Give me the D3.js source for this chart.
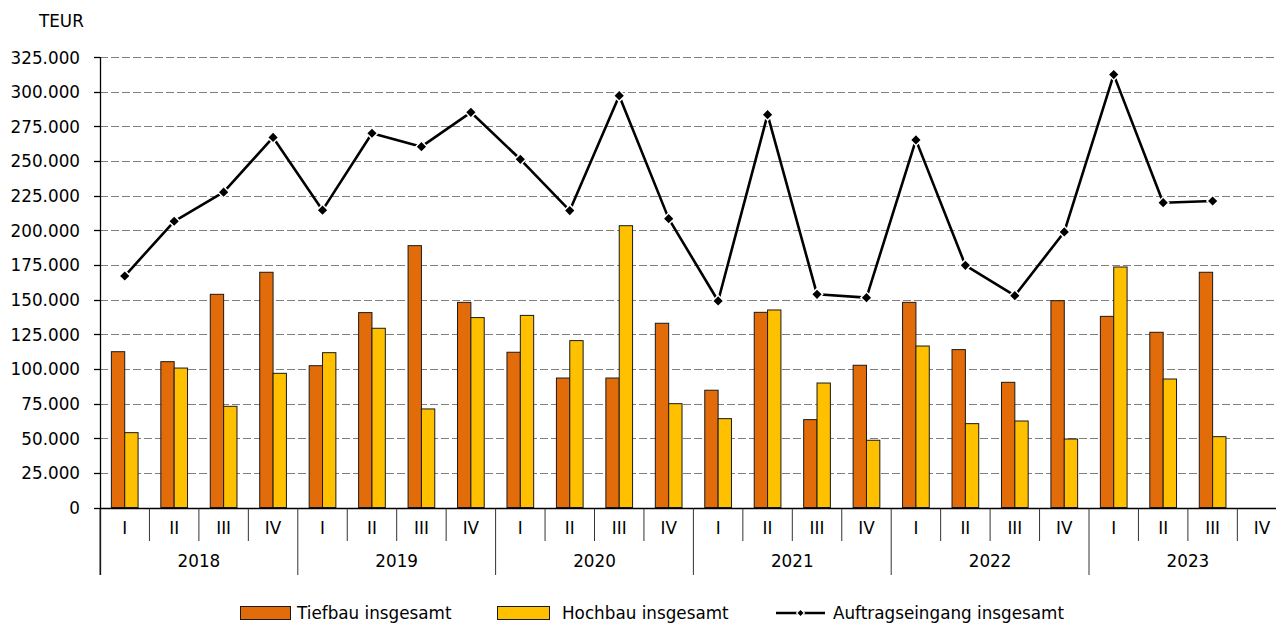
<!DOCTYPE html>
<html>
<head>
<meta charset="utf-8">
<script src="https://cdn.jsdelivr.net/npm/d3@7"></script>
<style>
  html, body { margin: 0; padding: 0; background: #fff; overflow: hidden; }
  svg { display: block; font-family: "DejaVu Sans", sans-serif; }
</style>
</head>
<body>
<svg id="chart" width="1276" height="626"></svg>
<script>
const years = ["2018", "2019", "2020", "2021", "2022", "2023"];
const quarters = ["I", "II", "III", "IV"];
const tiefbau = [112400, 105200, 153800, 169700, 102300, 140600, 188900, 148000, 112000, 93400, 93400, 132900, 84600, 140800, 63400, 102600, 148000, 113900, 90300, 149200, 137900, 126400, 169700, null];
const hochbau = [54000, 100600, 73000, 96800, 111700, 129300, 71100, 137000, 138600, 120400, 203300, 74900, 64100, 142500, 89800, 48500, 116500, 60500, 62400, 49400, 173500, 92700, 51100, null];
const auftrag = [167000, 206500, 227500, 267000, 214500, 270000, 260300, 285100, 251200, 214200, 297100, 208400, 149000, 283400, 153800, 151400, 265200, 174700, 152800, 198800, 312300, 219900, 221100, null];
const yTicks = [0, 25000, 50000, 75000, 100000, 125000, 150000, 175000, 200000, 225000, 250000, 275000, 300000, 325000];
const seriesNames = ["Tiefbau insgesamt", "Hochbau insgesamt", "Auftragseingang insgesamt"];
const unitLabel = "TEUR";

const colOrange = "#E36C0A", colYellow = "#FFC000";
const svg = d3.select("#chart");
const fs = 16.8;

const idx = d3.range(years.length * quarters.length);
const x = d3.scaleBand().domain(idx).range([100, 1286.8]).padding(0);
const y = d3.scaleLinear().domain([0, 325000]).range([507.5, 57]);
const bw = x.bandwidth();
const barW = bw * 0.27;
const cx = i => x(i) + bw / 2;

const loc = d3.formatLocale({decimal: ",", thousands: ".", grouping: [3], currency: ["", "€"]});
const fmt = loc.format(",d");

// gridlines
svg.append("g").selectAll("line").data(yTicks.filter(t => t > 0)).join("line")
  .attr("x1", 100).attr("x2", 1290)
  .attr("y1", d => Math.round(y(d)) + 0.5).attr("y2", d => Math.round(y(d)) + 0.5)
  .attr("stroke", "#7f7f7f").attr("stroke-width", 1.2).attr("stroke-dasharray", "8,3");

// y axis
const yAxis = svg.append("g");
yAxis.append("line").attr("x1", 100.5).attr("x2", 100.5).attr("y1", y(325000)).attr("y2", 575)
  .attr("stroke", "#000").attr("stroke-width", 1.3);
yAxis.selectAll("line.tk").data(yTicks).join("line").attr("class", "tk")
  .attr("x1", 94).attr("x2", 100)
  .attr("y1", d => Math.round(y(d)) + 0.5).attr("y2", d => Math.round(y(d)) + 0.5)
  .attr("stroke", "#000").attr("stroke-width", 1.3);
yAxis.selectAll("text").data(yTicks).join("text")
  .attr("x", 80).attr("y", d => y(d) + 6.5)
  .attr("text-anchor", "end").attr("font-size", fs).attr("fill", "#000")
  .text(d => fmt(d));
svg.append("text").attr("x", 39).attr("y", 26.7).attr("font-size", fs).text(unitLabel);

// bars
const gBars = svg.append("g");
gBars.selectAll("rect.t").data(idx.filter(i => tiefbau[i] != null)).join("rect").attr("class", "t")
  .attr("x", i => cx(i) - barW).attr("width", barW)
  .attr("y", i => y(tiefbau[i])).attr("height", i => y(0) - y(tiefbau[i]))
  .attr("fill", colOrange).attr("stroke", "#1a1a1a").attr("stroke-width", 1);
gBars.selectAll("rect.h").data(idx.filter(i => hochbau[i] != null)).join("rect").attr("class", "h")
  .attr("x", i => cx(i)).attr("width", barW)
  .attr("y", i => y(hochbau[i])).attr("height", i => y(0) - y(hochbau[i]))
  .attr("fill", colYellow).attr("stroke", "#1a1a1a").attr("stroke-width", 1);

// x axis
const yb = Math.round(y(0)) + 0.5;
svg.append("line").attr("x1", 100).attr("x2", 1290).attr("y1", yb).attr("y2", yb)
  .attr("stroke", "#000").attr("stroke-width", 1.5);
const bounds = d3.range(idx.length + 1);
svg.append("g").selectAll("line").data(bounds).join("line")
  .attr("x1", i => i < idx.length ? x(i) : x(idx.length - 1) + bw)
  .attr("x2", i => i < idx.length ? x(i) : x(idx.length - 1) + bw)
  .attr("y1", yb).attr("y2", i => i % 4 === 0 ? 575 : 541)
  .attr("stroke", "#333").attr("stroke-width", 1);
svg.append("g").selectAll("text").data(idx).join("text")
  .attr("x", i => cx(i)).attr("y", 534.3).attr("text-anchor", "middle")
  .attr("font-size", fs).text(i => quarters[i % 4]);
svg.append("g").selectAll("text").data(years).join("text")
  .attr("x", (d, k) => (x(k * 4) + x(k * 4 + 3) + bw) / 2).attr("y", 567.3).attr("text-anchor", "middle")
  .attr("font-size", fs).text(d => d);

// line
const linePts = idx.filter(i => auftrag[i] != null);
const line = d3.line().x(i => cx(i)).y(i => y(auftrag[i]));
svg.append("path").datum(linePts).attr("d", line)
  .attr("fill", "none").attr("stroke", "#000").attr("stroke-width", 2.6).attr("stroke-linejoin", "round");
svg.append("g").selectAll("path").data(linePts).join("path")
  .attr("d", d3.symbol().type(d3.symbolSquare).size(64))
  .attr("transform", i => `translate(${cx(i)},${y(auftrag[i])}) rotate(45)`)
  .attr("fill", "#000").attr("stroke", "#fff").attr("stroke-width", 1.5);

// legend
const lg = svg.append("g");
const ly = 613;
lg.append("rect").attr("x", 240.5).attr("y", ly - 6.5).attr("width", 50).attr("height", 13)
  .attr("fill", colOrange).attr("stroke", "#1a1a1a").attr("stroke-width", 1);
lg.append("text").attr("x", 297).attr("y", ly + 6).attr("font-size", fs).text(seriesNames[0]);
lg.append("rect").attr("x", 497.5).attr("y", ly - 6.5).attr("width", 52).attr("height", 13)
  .attr("fill", colYellow).attr("stroke", "#1a1a1a").attr("stroke-width", 1);
lg.append("text").attr("x", 562).attr("y", ly + 6).attr("font-size", fs).text(seriesNames[1]);
lg.append("line").attr("x1", 776).attr("x2", 825).attr("y1", ly).attr("y2", ly)
  .attr("stroke", "#000").attr("stroke-width", 2.6);
lg.append("path").attr("d", d3.symbol().type(d3.symbolSquare).size(30))
  .attr("transform", `translate(800.5,${ly}) rotate(45)`)
  .attr("fill", "#000").attr("stroke", "#fff").attr("stroke-width", 1.2);
lg.append("text").attr("x", 833).attr("y", ly + 6).attr("font-size", fs).text(seriesNames[2]);
</script>
</body>
</html>
